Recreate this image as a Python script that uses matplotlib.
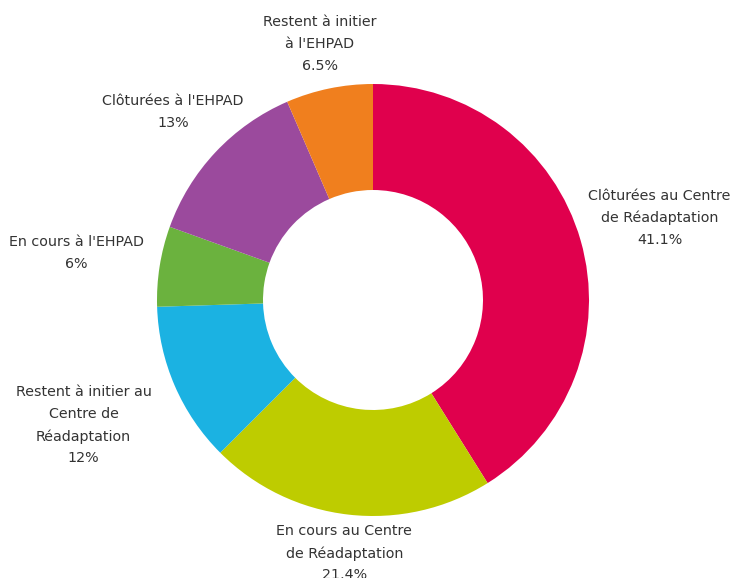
import matplotlib.pyplot as plt
import numpy as np

labels = [
    "Clôturées au Centre\nde Réadaptation",
    "En cours au Centre\nde Réadaptation",
    "Restent à initier au\nCentre de\nRéadaptation",
    "En cours à l'EHPAD",
    "Clôturées à l'EHPAD",
    "Restent à initier\nà l'EHPAD",
]
values = [41.1, 21.4, 12, 6, 13, 6.5]
value_text = ["41.1%", "21.4%", "12%", "6%", "13%", "6.5%"]

colors = ["#E0004D", "#BECC00", "#1BB2E2", "#6BB23E", "#9B4A9D", "#F07F1E"]
# distance of each label from the centre, in units of the outer radius
label_dist = [1.38, 1.18, 1.46, 1.39, 1.27, 1.21]

W, H = 730, 578
cx, cy = 373, H - 300
R = 216

fig = plt.figure(figsize=(W / 100, H / 100), dpi=100)
ax = fig.add_axes([0, 0, 1, 1])

wedges, _ = ax.pie(values, colors=colors, startangle=90, counterclock=False,
                   radius=R, center=(cx, cy),
                   wedgeprops=dict(width=R - 110, linewidth=0))

# pie() resets the limits, so set the pixel frame afterwards
ax.set_xlim(0, W)
ax.set_ylim(0, H)
ax.set_aspect("equal")
ax.axis("off")

for w, lab, pct, d in zip(wedges, labels, value_text, label_dist):
    mid = np.deg2rad((w.theta1 + w.theta2) / 2)
    x = cx + d * R * np.cos(mid)
    y = cy + d * R * np.sin(mid)
    ax.text(x, y, lab + "\n" + pct, ha="center", va="center",
            fontsize=10.3, color="#333333", linespacing=1.7)

fig.savefig("out.png", dpi=100)
